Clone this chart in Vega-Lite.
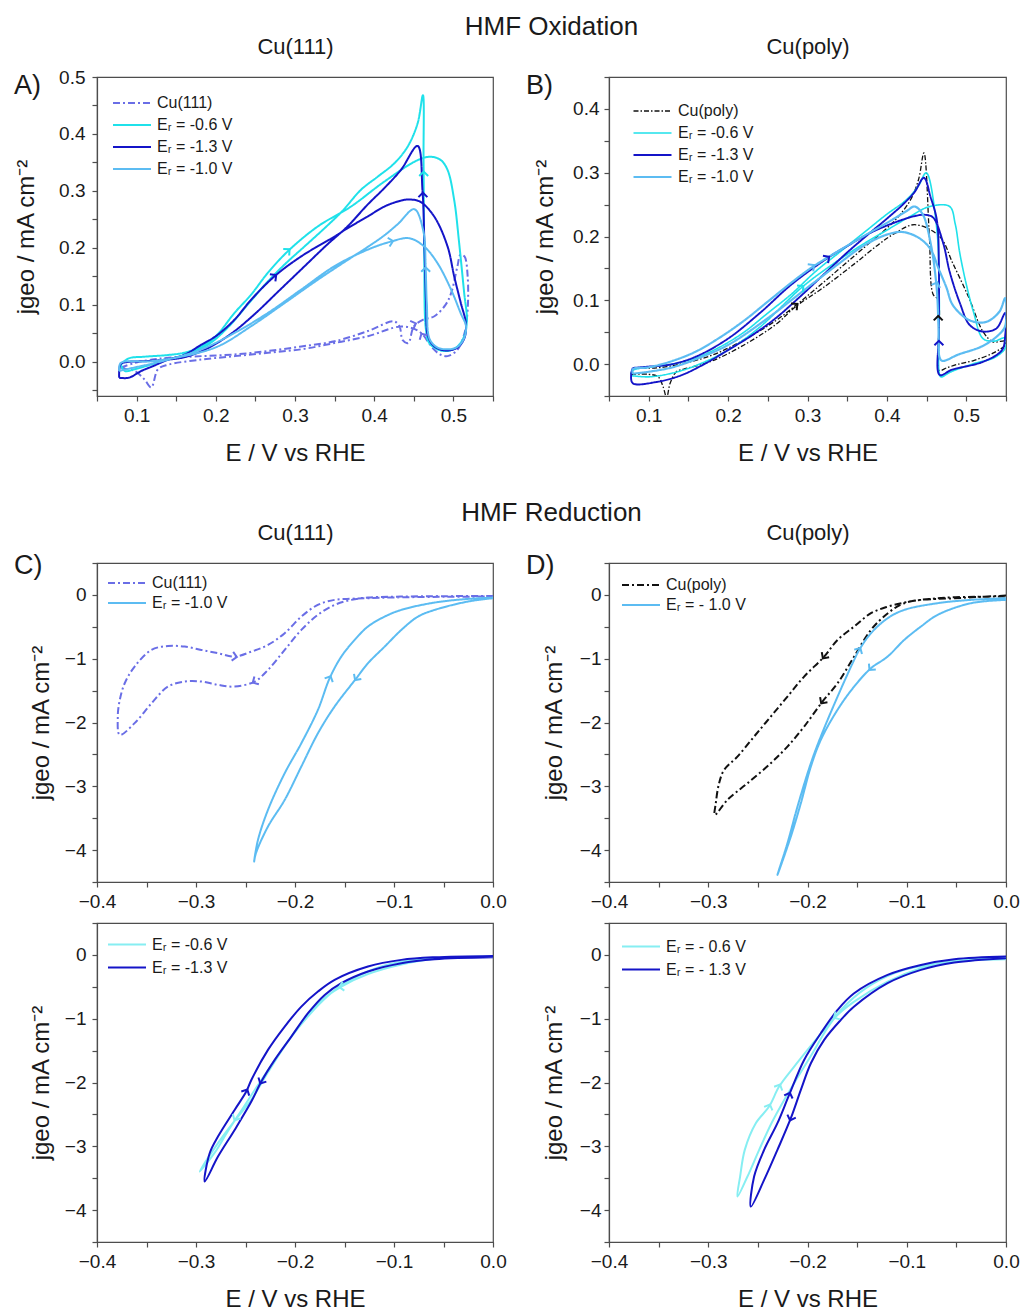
{
"$schema": "https://vega.github.io/schema/vega-lite/v6.json",
"padding": {"left": 13, "top": 14, "right": 5, "bottom": 5},
"config": {
 "font": "Liberation Sans",
 "view": {"stroke": "#4d4d4d", "strokeWidth": 1.2},
 "axis": {"grid": false, "domainColor": "#4d4d4d", "domainWidth": 1.2, "tickColor": "#4d4d4d", "tickWidth": 1.2, "tickSize": 5, "labelFontSize": 19, "labelColor": "#1a1a1a", "labelFlush": false, "labelOverlap": false, "titleFontSize": 24, "titleFontWeight": "normal", "titleColor": "#1a1a1a"},
 "axisX": {"labelPadding": 5, "titlePadding": 16},
 "title": {"fontWeight": "normal", "color": "#1a1a1a", "font": "Liberation Sans"}
},
"datasets": {
 "A": [
  {"s":"Cu(111)","x":0.08,"y":-0.01},{"s":"Cu(111)","x":0.0975,"y":-0.002},{"s":"Cu(111)","x":0.12,"y":0.004},{"s":"Cu(111)","x":0.14,"y":0.007},{"s":"Cu(111)","x":0.182,"y":0.01},{"s":"Cu(111)","x":0.224,"y":0.013},{"s":"Cu(111)","x":0.266,"y":0.019},{"s":"Cu(111)","x":0.308,"y":0.027},{"s":"Cu(111)","x":0.35,"y":0.036},{"s":"Cu(111)","x":0.392,"y":0.054},{"s":"Cu(111)","x":0.425,"y":0.071},{"s":"Cu(111)","x":0.432,"y":0.062},{"s":"Cu(111)","x":0.436,"y":0.038},{"s":"Cu(111)","x":0.443,"y":0.033},{"s":"Cu(111)","x":0.45,"y":0.062},{"s":"Cu(111)","x":0.462,"y":0.074},{"s":"Cu(111)","x":0.476,"y":0.08},{"s":"Cu(111)","x":0.49,"y":0.1},{"s":"Cu(111)","x":0.497,"y":0.12},{"s":"Cu(111)","x":0.505,"y":0.167},{"s":"Cu(111)","x":0.509,"y":0.188},{"s":"Cu(111)","x":0.514,"y":0.185},{"s":"Cu(111)","x":0.518,"y":0.15},{"s":"Cu(111)","x":0.518,"y":0.092},{"s":"Cu(111)","x":0.514,"y":0.05},{"s":"Cu(111)","x":0.505,"y":0.021},{"s":"Cu(111)","x":0.4926,"y":0.01},{"s":"Cu(111)","x":0.483,"y":0.013},{"s":"Cu(111)","x":0.476,"y":0.021},{"s":"Cu(111)","x":0.468,"y":0.035},{"s":"Cu(111)","x":0.463,"y":0.045},{"s":"Cu(111)","x":0.455,"y":0.055},{"s":"Cu(111)","x":0.434,"y":0.062},{"s":"Cu(111)","x":0.392,"y":0.045},{"s":"Cu(111)","x":0.35,"y":0.033},{"s":"Cu(111)","x":0.308,"y":0.022},{"s":"Cu(111)","x":0.266,"y":0.016},{"s":"Cu(111)","x":0.224,"y":0.01},{"s":"Cu(111)","x":0.182,"y":0.004},{"s":"Cu(111)","x":0.14,"y":-0.005},{"s":"Cu(111)","x":0.127,"y":-0.013},{"s":"Cu(111)","x":0.1185,"y":-0.045},{"s":"Cu(111)","x":0.11,"y":-0.031},{"s":"Cu(111)","x":0.0975,"y":-0.016},{"s":"Cu(111)","x":0.085,"y":-0.012},{"s":"Cu(111)","x":0.08,"y":-0.01},
  {"s":"Eᵣ = -0.6 V","x":0.08,"y":-0.005},{"s":"Eᵣ = -0.6 V","x":0.09,"y":0.006},{"s":"Eᵣ = -0.6 V","x":0.11,"y":0.009},{"s":"Eᵣ = -0.6 V","x":0.14,"y":0.012},{"s":"Eᵣ = -0.6 V","x":0.16,"y":0.016},{"s":"Eᵣ = -0.6 V","x":0.1816,"y":0.027},{"s":"Eᵣ = -0.6 V","x":0.2,"y":0.045},{"s":"Eᵣ = -0.6 V","x":0.2236,"y":0.0858},{"s":"Eᵣ = -0.6 V","x":0.2446,"y":0.118},{"s":"Eᵣ = -0.6 V","x":0.2656,"y":0.156},{"s":"Eᵣ = -0.6 V","x":0.2909,"y":0.194},{"s":"Eᵣ = -0.6 V","x":0.3287,"y":0.2376},{"s":"Eᵣ = -0.6 V","x":0.3707,"y":0.2726},{"s":"Eᵣ = -0.6 V","x":0.4128,"y":0.3164},{"s":"Eᵣ = -0.6 V","x":0.4548,"y":0.354},{"s":"Eᵣ = -0.6 V","x":0.4716,"y":0.36},{"s":"Eᵣ = -0.6 V","x":0.4842,"y":0.354},{"s":"Eᵣ = -0.6 V","x":0.4926,"y":0.337},{"s":"Eᵣ = -0.6 V","x":0.501,"y":0.284},{"s":"Eᵣ = -0.6 V","x":0.5073,"y":0.208},{"s":"Eᵣ = -0.6 V","x":0.5136,"y":0.121},{"s":"Eᵣ = -0.6 V","x":0.517,"y":0.074},{"s":"Eᵣ = -0.6 V","x":0.5136,"y":0.045},{"s":"Eᵣ = -0.6 V","x":0.5052,"y":0.027},{"s":"Eᵣ = -0.6 V","x":0.4926,"y":0.019},{"s":"Eᵣ = -0.6 V","x":0.48,"y":0.022},{"s":"Eᵣ = -0.6 V","x":0.4695,"y":0.033},{"s":"Eᵣ = -0.6 V","x":0.4653,"y":0.057},{"s":"Eᵣ = -0.6 V","x":0.4632,"y":0.179},{"s":"Eᵣ = -0.6 V","x":0.4623,"y":0.354},{"s":"Eᵣ = -0.6 V","x":0.4615,"y":0.468},{"s":"Eᵣ = -0.6 V","x":0.4548,"y":0.4186},{"s":"Eᵣ = -0.6 V","x":0.4422,"y":0.3777},{"s":"Eᵣ = -0.6 V","x":0.4254,"y":0.3485},{"s":"Eᵣ = -0.6 V","x":0.4044,"y":0.325},{"s":"Eᵣ = -0.6 V","x":0.3833,"y":0.302},{"s":"Eᵣ = -0.6 V","x":0.36,"y":0.265},{"s":"Eᵣ = -0.6 V","x":0.34,"y":0.238},{"s":"Eᵣ = -0.6 V","x":0.31,"y":0.2},{"s":"Eᵣ = -0.6 V","x":0.29,"y":0.175},{"s":"Eᵣ = -0.6 V","x":0.265,"y":0.14},{"s":"Eᵣ = -0.6 V","x":0.24,"y":0.1},{"s":"Eᵣ = -0.6 V","x":0.215,"y":0.06},{"s":"Eᵣ = -0.6 V","x":0.19,"y":0.03},{"s":"Eᵣ = -0.6 V","x":0.16,"y":0.012},{"s":"Eᵣ = -0.6 V","x":0.13,"y":0.0},{"s":"Eᵣ = -0.6 V","x":0.1,"y":-0.012},{"s":"Eᵣ = -0.6 V","x":0.085,"y":-0.016},{"s":"Eᵣ = -0.6 V","x":0.08,"y":-0.005},
  {"s":"Eᵣ = -1.3 V","x":0.078,"y":-0.028},{"s":"Eᵣ = -1.3 V","x":0.09,"y":-0.028},{"s":"Eᵣ = -1.3 V","x":0.106,"y":-0.016},{"s":"Eᵣ = -1.3 V","x":0.12,"y":-0.008},{"s":"Eᵣ = -1.3 V","x":0.14,"y":0.004},{"s":"Eᵣ = -1.3 V","x":0.16,"y":0.012},{"s":"Eᵣ = -1.3 V","x":0.1816,"y":0.03},{"s":"Eᵣ = -1.3 V","x":0.2,"y":0.045},{"s":"Eᵣ = -1.3 V","x":0.2236,"y":0.074},{"s":"Eᵣ = -1.3 V","x":0.2446,"y":0.109},{"s":"Eᵣ = -1.3 V","x":0.274,"y":0.15},{"s":"Eᵣ = -1.3 V","x":0.3077,"y":0.185},{"s":"Eᵣ = -1.3 V","x":0.35,"y":0.22},{"s":"Eᵣ = -1.3 V","x":0.3665,"y":0.2347},{"s":"Eᵣ = -1.3 V","x":0.3917,"y":0.255},{"s":"Eᵣ = -1.3 V","x":0.4128,"y":0.2726},{"s":"Eᵣ = -1.3 V","x":0.4338,"y":0.283},{"s":"Eᵣ = -1.3 V","x":0.444,"y":0.285},{"s":"Eᵣ = -1.3 V","x":0.4581,"y":0.281},{"s":"Eᵣ = -1.3 V","x":0.4758,"y":0.255},{"s":"Eᵣ = -1.3 V","x":0.4926,"y":0.2026},{"s":"Eᵣ = -1.3 V","x":0.501,"y":0.15},{"s":"Eᵣ = -1.3 V","x":0.5094,"y":0.103},{"s":"Eᵣ = -1.3 V","x":0.5157,"y":0.068},{"s":"Eᵣ = -1.3 V","x":0.514,"y":0.042},{"s":"Eᵣ = -1.3 V","x":0.505,"y":0.025},{"s":"Eᵣ = -1.3 V","x":0.49,"y":0.02},{"s":"Eᵣ = -1.3 V","x":0.476,"y":0.027},{"s":"Eᵣ = -1.3 V","x":0.468,"y":0.045},{"s":"Eᵣ = -1.3 V","x":0.4656,"y":0.1},{"s":"Eᵣ = -1.3 V","x":0.4635,"y":0.2},{"s":"Eᵣ = -1.3 V","x":0.461,"y":0.3},{"s":"Eᵣ = -1.3 V","x":0.4548,"y":0.379},{"s":"Eᵣ = -1.3 V","x":0.4338,"y":0.337},{"s":"Eᵣ = -1.3 V","x":0.4128,"y":0.305},{"s":"Eᵣ = -1.3 V","x":0.3917,"y":0.276},{"s":"Eᵣ = -1.3 V","x":0.3665,"y":0.238},{"s":"Eᵣ = -1.3 V","x":0.34,"y":0.205},{"s":"Eᵣ = -1.3 V","x":0.31,"y":0.165},{"s":"Eᵣ = -1.3 V","x":0.28,"y":0.125},{"s":"Eᵣ = -1.3 V","x":0.25,"y":0.085},{"s":"Eᵣ = -1.3 V","x":0.22,"y":0.05},{"s":"Eᵣ = -1.3 V","x":0.19,"y":0.024},{"s":"Eᵣ = -1.3 V","x":0.16,"y":0.008},{"s":"Eᵣ = -1.3 V","x":0.13,"y":0.003},{"s":"Eᵣ = -1.3 V","x":0.11,"y":0.001},{"s":"Eᵣ = -1.3 V","x":0.09,"y":0.0},{"s":"Eᵣ = -1.3 V","x":0.08,"y":-0.004},{"s":"Eᵣ = -1.3 V","x":0.078,"y":-0.028},
  {"s":"Eᵣ = -1.0 V","x":0.078,"y":-0.016},{"s":"Eᵣ = -1.0 V","x":0.0975,"y":-0.01},{"s":"Eᵣ = -1.0 V","x":0.12,"y":-0.003},{"s":"Eᵣ = -1.0 V","x":0.14,"y":0.004},{"s":"Eᵣ = -1.0 V","x":0.182,"y":0.022},{"s":"Eᵣ = -1.0 V","x":0.224,"y":0.051},{"s":"Eᵣ = -1.0 V","x":0.266,"y":0.086},{"s":"Eᵣ = -1.0 V","x":0.308,"y":0.127},{"s":"Eᵣ = -1.0 V","x":0.35,"y":0.168},{"s":"Eᵣ = -1.0 V","x":0.392,"y":0.197},{"s":"Eᵣ = -1.0 V","x":0.421,"y":0.211},{"s":"Eᵣ = -1.0 V","x":0.444,"y":0.217},{"s":"Eᵣ = -1.0 V","x":0.463,"y":0.2026},{"s":"Eᵣ = -1.0 V","x":0.48,"y":0.173},{"s":"Eᵣ = -1.0 V","x":0.497,"y":0.127},{"s":"Eᵣ = -1.0 V","x":0.509,"y":0.086},{"s":"Eᵣ = -1.0 V","x":0.516,"y":0.062},{"s":"Eᵣ = -1.0 V","x":0.513,"y":0.04},{"s":"Eᵣ = -1.0 V","x":0.505,"y":0.026},{"s":"Eᵣ = -1.0 V","x":0.495,"y":0.022},{"s":"Eᵣ = -1.0 V","x":0.48,"y":0.025},{"s":"Eᵣ = -1.0 V","x":0.47,"y":0.04},{"s":"Eᵣ = -1.0 V","x":0.4665,"y":0.1},{"s":"Eᵣ = -1.0 V","x":0.465,"y":0.162},{"s":"Eᵣ = -1.0 V","x":0.462,"y":0.23},{"s":"Eᵣ = -1.0 V","x":0.4506,"y":0.268},{"s":"Eᵣ = -1.0 V","x":0.43,"y":0.242},{"s":"Eᵣ = -1.0 V","x":0.4128,"y":0.222},{"s":"Eᵣ = -1.0 V","x":0.39,"y":0.2},{"s":"Eᵣ = -1.0 V","x":0.37,"y":0.182},{"s":"Eᵣ = -1.0 V","x":0.3287,"y":0.144},{"s":"Eᵣ = -1.0 V","x":0.2867,"y":0.103},{"s":"Eᵣ = -1.0 V","x":0.2446,"y":0.0625},{"s":"Eᵣ = -1.0 V","x":0.2026,"y":0.027},{"s":"Eᵣ = -1.0 V","x":0.16,"y":0.01},{"s":"Eᵣ = -1.0 V","x":0.118,"y":0.001},{"s":"Eᵣ = -1.0 V","x":0.08,"y":-0.002},{"s":"Eᵣ = -1.0 V","x":0.078,"y":-0.016}
 ],
 "Aarr": [
  {"s":"Cu(111)","x":0.45,"y":0.066,"a":-20},{"s":"Cu(111)","x":0.461,"y":0.046,"a":-120},
  {"s":"Eᵣ = -0.6 V","x":0.291,"y":0.195,"a":-42},{"s":"Eᵣ = -0.6 V","x":0.4625,"y":0.33,"a":-90},
  {"s":"Eᵣ = -1.3 V","x":0.274,"y":0.15,"a":-38},{"s":"Eᵣ = -1.3 V","x":0.4615,"y":0.293,"a":-90},
  {"s":"Eᵣ = -1.0 V","x":0.421,"y":0.211,"a":-12},{"s":"Eᵣ = -1.0 V","x":0.465,"y":0.162,"a":-90}
 ],
 "B": [
  {"s":"Cu(poly)","x":0.078,"y":-0.016},{"s":"Cu(poly)","x":0.1,"y":-0.016},{"s":"Cu(poly)","x":0.112,"y":-0.02},{"s":"Cu(poly)","x":0.118,"y":-0.035},{"s":"Cu(poly)","x":0.1226,"y":-0.052},{"s":"Cu(poly)","x":0.127,"y":-0.03},{"s":"Cu(poly)","x":0.135,"y":-0.012},{"s":"Cu(poly)","x":0.15,"y":-0.006},{"s":"Cu(poly)","x":0.18,"y":0.005},{"s":"Cu(poly)","x":0.22,"y":0.03},{"s":"Cu(poly)","x":0.26,"y":0.062},{"s":"Cu(poly)","x":0.285,"y":0.09},{"s":"Cu(poly)","x":0.32,"y":0.12},{"s":"Cu(poly)","x":0.36,"y":0.158},{"s":"Cu(poly)","x":0.39,"y":0.188},{"s":"Cu(poly)","x":0.41,"y":0.205},{"s":"Cu(poly)","x":0.4348,"y":0.2185},{"s":"Cu(poly)","x":0.4664,"y":0.2},{"s":"Cu(poly)","x":0.483,"y":0.158},{"s":"Cu(poly)","x":0.5036,"y":0.103},{"s":"Cu(poly)","x":0.521,"y":0.051},{"s":"Cu(poly)","x":0.5335,"y":0.035},{"s":"Cu(poly)","x":0.549,"y":0.036},{"s":"Cu(poly)","x":0.549,"y":0.03},{"s":"Cu(poly)","x":0.535,"y":0.018},{"s":"Cu(poly)","x":0.51,"y":0.006},{"s":"Cu(poly)","x":0.49,"y":0.0},{"s":"Cu(poly)","x":0.475,"y":-0.006},{"s":"Cu(poly)","x":0.466,"y":-0.01},{"s":"Cu(poly)","x":0.4646,"y":0.02},{"s":"Cu(poly)","x":0.4646,"y":0.1},{"s":"Cu(poly)","x":0.458,"y":0.11},{"s":"Cu(poly)","x":0.4535,"y":0.2},{"s":"Cu(poly)","x":0.4466,"y":0.331},{"s":"Cu(poly)","x":0.44,"y":0.29},{"s":"Cu(poly)","x":0.43,"y":0.258},{"s":"Cu(poly)","x":0.415,"y":0.232},{"s":"Cu(poly)","x":0.4,"y":0.213},{"s":"Cu(poly)","x":0.38,"y":0.192},{"s":"Cu(poly)","x":0.35,"y":0.16},{"s":"Cu(poly)","x":0.32,"y":0.128},{"s":"Cu(poly)","x":0.29,"y":0.097},{"s":"Cu(poly)","x":0.26,"y":0.068},{"s":"Cu(poly)","x":0.22,"y":0.038},{"s":"Cu(poly)","x":0.18,"y":0.014},{"s":"Cu(poly)","x":0.14,"y":0.0},{"s":"Cu(poly)","x":0.11,"y":-0.006},{"s":"Cu(poly)","x":0.08,"y":-0.008},{"s":"Cu(poly)","x":0.078,"y":-0.016},
  {"s":"Eᵣ = -0.6 V","x":0.078,"y":-0.018},{"s":"Eᵣ = -0.6 V","x":0.1,"y":-0.02},{"s":"Eᵣ = -0.6 V","x":0.13,"y":-0.014},{"s":"Eᵣ = -0.6 V","x":0.16,"y":-0.002},{"s":"Eᵣ = -0.6 V","x":0.2,"y":0.022},{"s":"Eᵣ = -0.6 V","x":0.24,"y":0.058},{"s":"Eᵣ = -0.6 V","x":0.2926,"y":0.12},{"s":"Eᵣ = -0.6 V","x":0.33,"y":0.155},{"s":"Eᵣ = -0.6 V","x":0.37,"y":0.188},{"s":"Eᵣ = -0.6 V","x":0.4,"y":0.21},{"s":"Eᵣ = -0.6 V","x":0.43,"y":0.232},{"s":"Eᵣ = -0.6 V","x":0.4538,"y":0.247},{"s":"Eᵣ = -0.6 V","x":0.479,"y":0.247},{"s":"Eᵣ = -0.6 V","x":0.486,"y":0.22},{"s":"Eᵣ = -0.6 V","x":0.4918,"y":0.174},{"s":"Eᵣ = -0.6 V","x":0.5,"y":0.125},{"s":"Eᵣ = -0.6 V","x":0.509,"y":0.082},{"s":"Eᵣ = -0.6 V","x":0.521,"y":0.04},{"s":"Eᵣ = -0.6 V","x":0.535,"y":0.036},{"s":"Eᵣ = -0.6 V","x":0.549,"y":0.041},{"s":"Eᵣ = -0.6 V","x":0.549,"y":0.025},{"s":"Eᵣ = -0.6 V","x":0.535,"y":0.01},{"s":"Eᵣ = -0.6 V","x":0.5115,"y":0.0016},{"s":"Eᵣ = -0.6 V","x":0.4815,"y":-0.0116},{"s":"Eᵣ = -0.6 V","x":0.468,"y":-0.02},{"s":"Eᵣ = -0.6 V","x":0.466,"y":-0.015},{"s":"Eᵣ = -0.6 V","x":0.466,"y":0.1},{"s":"Eᵣ = -0.6 V","x":0.4625,"y":0.216},{"s":"Eᵣ = -0.6 V","x":0.4495,"y":0.3},{"s":"Eᵣ = -0.6 V","x":0.44,"y":0.28},{"s":"Eᵣ = -0.6 V","x":0.425,"y":0.258},{"s":"Eᵣ = -0.6 V","x":0.4,"y":0.235},{"s":"Eᵣ = -0.6 V","x":0.37,"y":0.205},{"s":"Eᵣ = -0.6 V","x":0.34,"y":0.175},{"s":"Eᵣ = -0.6 V","x":0.31,"y":0.145},{"s":"Eᵣ = -0.6 V","x":0.28,"y":0.11},{"s":"Eᵣ = -0.6 V","x":0.25,"y":0.08},{"s":"Eᵣ = -0.6 V","x":0.22,"y":0.05},{"s":"Eᵣ = -0.6 V","x":0.19,"y":0.027},{"s":"Eᵣ = -0.6 V","x":0.16,"y":0.01},{"s":"Eᵣ = -0.6 V","x":0.13,"y":0.0},{"s":"Eᵣ = -0.6 V","x":0.1,"y":-0.005},{"s":"Eᵣ = -0.6 V","x":0.08,"y":-0.01},{"s":"Eᵣ = -0.6 V","x":0.078,"y":-0.018},
  {"s":"Eᵣ = -1.3 V","x":0.08,"y":-0.006},{"s":"Eᵣ = -1.3 V","x":0.1,"y":-0.004},{"s":"Eᵣ = -1.3 V","x":0.13,"y":0.0},{"s":"Eᵣ = -1.3 V","x":0.16,"y":0.012},{"s":"Eᵣ = -1.3 V","x":0.2,"y":0.04},{"s":"Eᵣ = -1.3 V","x":0.24,"y":0.08},{"s":"Eᵣ = -1.3 V","x":0.28,"y":0.125},{"s":"Eᵣ = -1.3 V","x":0.325,"y":0.166},{"s":"Eᵣ = -1.3 V","x":0.35,"y":0.185},{"s":"Eᵣ = -1.3 V","x":0.378,"y":0.205},{"s":"Eᵣ = -1.3 V","x":0.41,"y":0.222},{"s":"Eᵣ = -1.3 V","x":0.435,"y":0.232},{"s":"Eᵣ = -1.3 V","x":0.4475,"y":0.234},{"s":"Eᵣ = -1.3 V","x":0.458,"y":0.23},{"s":"Eᵣ = -1.3 V","x":0.4708,"y":0.19},{"s":"Eᵣ = -1.3 V","x":0.479,"y":0.145},{"s":"Eᵣ = -1.3 V","x":0.4918,"y":0.096},{"s":"Eᵣ = -1.3 V","x":0.5045,"y":0.061},{"s":"Eᵣ = -1.3 V","x":0.521,"y":0.051},{"s":"Eᵣ = -1.3 V","x":0.538,"y":0.056},{"s":"Eᵣ = -1.3 V","x":0.549,"y":0.08},{"s":"Eᵣ = -1.3 V","x":0.549,"y":0.045},{"s":"Eᵣ = -1.3 V","x":0.545,"y":0.022},{"s":"Eᵣ = -1.3 V","x":0.521,"y":0.0036},{"s":"Eᵣ = -1.3 V","x":0.4815,"y":-0.009},{"s":"Eᵣ = -1.3 V","x":0.4665,"y":-0.017},{"s":"Eᵣ = -1.3 V","x":0.4655,"y":0.05},{"s":"Eᵣ = -1.3 V","x":0.4655,"y":0.15},{"s":"Eᵣ = -1.3 V","x":0.463,"y":0.225},{"s":"Eᵣ = -1.3 V","x":0.455,"y":0.262},{"s":"Eᵣ = -1.3 V","x":0.4466,"y":0.292},{"s":"Eᵣ = -1.3 V","x":0.435,"y":0.27},{"s":"Eᵣ = -1.3 V","x":0.42,"y":0.25},{"s":"Eᵣ = -1.3 V","x":0.4,"y":0.228},{"s":"Eᵣ = -1.3 V","x":0.378,"y":0.205},{"s":"Eᵣ = -1.3 V","x":0.35,"y":0.175},{"s":"Eᵣ = -1.3 V","x":0.32,"y":0.14},{"s":"Eᵣ = -1.3 V","x":0.29,"y":0.105},{"s":"Eᵣ = -1.3 V","x":0.26,"y":0.072},{"s":"Eᵣ = -1.3 V","x":0.23,"y":0.045},{"s":"Eᵣ = -1.3 V","x":0.2,"y":0.022},{"s":"Eᵣ = -1.3 V","x":0.17,"y":0.0},{"s":"Eᵣ = -1.3 V","x":0.14,"y":-0.018},{"s":"Eᵣ = -1.3 V","x":0.11,"y":-0.028},{"s":"Eᵣ = -1.3 V","x":0.08,"y":-0.03},{"s":"Eᵣ = -1.3 V","x":0.078,"y":-0.015},{"s":"Eᵣ = -1.3 V","x":0.08,"y":-0.006},
  {"s":"Eᵣ = -1.0 V","x":0.08,"y":-0.015},{"s":"Eᵣ = -1.0 V","x":0.1,"y":-0.012},{"s":"Eᵣ = -1.0 V","x":0.13,"y":-0.005},{"s":"Eᵣ = -1.0 V","x":0.16,"y":0.008},{"s":"Eᵣ = -1.0 V","x":0.2,"y":0.03},{"s":"Eᵣ = -1.0 V","x":0.25,"y":0.072},{"s":"Eᵣ = -1.0 V","x":0.3,"y":0.12},{"s":"Eᵣ = -1.0 V","x":0.34,"y":0.158},{"s":"Eᵣ = -1.0 V","x":0.37,"y":0.185},{"s":"Eᵣ = -1.0 V","x":0.4,"y":0.203},{"s":"Eᵣ = -1.0 V","x":0.42,"y":0.207},{"s":"Eᵣ = -1.0 V","x":0.44,"y":0.198},{"s":"Eᵣ = -1.0 V","x":0.455,"y":0.18},{"s":"Eᵣ = -1.0 V","x":0.465,"y":0.15},{"s":"Eᵣ = -1.0 V","x":0.475,"y":0.12},{"s":"Eᵣ = -1.0 V","x":0.483,"y":0.0925},{"s":"Eᵣ = -1.0 V","x":0.5036,"y":0.069},{"s":"Eᵣ = -1.0 V","x":0.5247,"y":0.066},{"s":"Eᵣ = -1.0 V","x":0.5416,"y":0.082},{"s":"Eᵣ = -1.0 V","x":0.549,"y":0.1035},{"s":"Eᵣ = -1.0 V","x":0.549,"y":0.06},{"s":"Eᵣ = -1.0 V","x":0.54,"y":0.045},{"s":"Eᵣ = -1.0 V","x":0.52,"y":0.028},{"s":"Eᵣ = -1.0 V","x":0.49,"y":0.015},{"s":"Eᵣ = -1.0 V","x":0.47,"y":0.005},{"s":"Eᵣ = -1.0 V","x":0.4665,"y":0.01},{"s":"Eᵣ = -1.0 V","x":0.465,"y":0.06},{"s":"Eᵣ = -1.0 V","x":0.4625,"y":0.122},{"s":"Eᵣ = -1.0 V","x":0.455,"y":0.19},{"s":"Eᵣ = -1.0 V","x":0.445,"y":0.235},{"s":"Eᵣ = -1.0 V","x":0.4348,"y":0.247},{"s":"Eᵣ = -1.0 V","x":0.425,"y":0.24},{"s":"Eᵣ = -1.0 V","x":0.405,"y":0.225},{"s":"Eᵣ = -1.0 V","x":0.37,"y":0.2},{"s":"Eᵣ = -1.0 V","x":0.34,"y":0.178},{"s":"Eᵣ = -1.0 V","x":0.306,"y":0.152},{"s":"Eᵣ = -1.0 V","x":0.28,"y":0.128},{"s":"Eᵣ = -1.0 V","x":0.25,"y":0.098},{"s":"Eᵣ = -1.0 V","x":0.22,"y":0.068},{"s":"Eᵣ = -1.0 V","x":0.19,"y":0.042},{"s":"Eᵣ = -1.0 V","x":0.16,"y":0.02},{"s":"Eᵣ = -1.0 V","x":0.13,"y":0.005},{"s":"Eᵣ = -1.0 V","x":0.1,"y":-0.005},{"s":"Eᵣ = -1.0 V","x":0.08,"y":-0.008},{"s":"Eᵣ = -1.0 V","x":0.08,"y":-0.015}
 ],
 "Barr": [
  {"s":"Cu(poly)","x":0.285,"y":0.092,"a":-40},{"s":"Cu(poly)","x":0.4646,"y":0.072,"a":-90},
  {"s":"Eᵣ = -0.6 V","x":0.2926,"y":0.12,"a":-40},
  {"s":"Eᵣ = -1.3 V","x":0.325,"y":0.166,"a":-35},{"s":"Eᵣ = -1.3 V","x":0.4655,"y":0.033,"a":-90},
  {"s":"Eᵣ = -1.0 V","x":0.306,"y":0.153,"a":-38},{"s":"Eᵣ = -1.0 V","x":0.4625,"y":0.125,"a":-70}
 ],
 "C": [
  {"s":"Cu(111)","x":0,"y":-0.016},{"s":"Cu(111)","x":-0.05,"y":-0.02},{"s":"Cu(111)","x":-0.093,"y":-0.026},{"s":"Cu(111)","x":-0.1263,"y":-0.042},{"s":"Cu(111)","x":-0.143,"y":-0.078},{"s":"Cu(111)","x":-0.16,"y":-0.157},{"s":"Cu(111)","x":-0.177,"y":-0.313},{"s":"Cu(111)","x":-0.1936,"y":-0.549},{"s":"Cu(111)","x":-0.2104,"y":-0.862},{"s":"Cu(111)","x":-0.2273,"y":-1.176},{"s":"Cu(111)","x":-0.2407,"y":-1.358},{"s":"Cu(111)","x":-0.261,"y":-1.437},{"s":"Cu(111)","x":-0.2778,"y":-1.41},{"s":"Cu(111)","x":-0.2946,"y":-1.358},{"s":"Cu(111)","x":-0.3114,"y":-1.358},{"s":"Cu(111)","x":-0.3283,"y":-1.437},{"s":"Cu(111)","x":-0.345,"y":-1.7},{"s":"Cu(111)","x":-0.362,"y":-2.01},{"s":"Cu(111)","x":-0.377,"y":-2.194},{"s":"Cu(111)","x":-0.379,"y":-1.907},{"s":"Cu(111)","x":-0.377,"y":-1.646},{"s":"Cu(111)","x":-0.372,"y":-1.385},{"s":"Cu(111)","x":-0.362,"y":-1.123},{"s":"Cu(111)","x":-0.345,"y":-0.862},{"s":"Cu(111)","x":-0.3283,"y":-0.8},{"s":"Cu(111)","x":-0.3114,"y":-0.81},{"s":"Cu(111)","x":-0.2946,"y":-0.862},{"s":"Cu(111)","x":-0.2778,"y":-0.914},{"s":"Cu(111)","x":-0.261,"y":-0.967},{"s":"Cu(111)","x":-0.244,"y":-0.888},{"s":"Cu(111)","x":-0.2273,"y":-0.784},{"s":"Cu(111)","x":-0.2104,"y":-0.6},{"s":"Cu(111)","x":-0.1936,"y":-0.34},{"s":"Cu(111)","x":-0.177,"y":-0.157},{"s":"Cu(111)","x":-0.16,"y":-0.078},{"s":"Cu(111)","x":-0.143,"y":-0.06},{"s":"Cu(111)","x":-0.1263,"y":-0.052},{"s":"Cu(111)","x":-0.1,"y":-0.04},{"s":"Cu(111)","x":-0.05,"y":-0.03},{"s":"Cu(111)","x":0,"y":-0.026},
  {"s":"Eᵣ = -1.0 V","x":0,"y":-0.052},{"s":"Eᵣ = -1.0 V","x":-0.0253,"y":-0.104},{"s":"Eᵣ = -1.0 V","x":-0.0589,"y":-0.235},{"s":"Eᵣ = -1.0 V","x":-0.0758,"y":-0.34},{"s":"Eᵣ = -1.0 V","x":-0.0926,"y":-0.549},{"s":"Eᵣ = -1.0 V","x":-0.1094,"y":-0.81},{"s":"Eᵣ = -1.0 V","x":-0.1263,"y":-1.071},{"s":"Eᵣ = -1.0 V","x":-0.138,"y":-1.306},{"s":"Eᵣ = -1.0 V","x":-0.16,"y":-1.75},{"s":"Eᵣ = -1.0 V","x":-0.1768,"y":-2.168},{"s":"Eᵣ = -1.0 V","x":-0.1936,"y":-2.69},{"s":"Eᵣ = -1.0 V","x":-0.2104,"y":-3.213},{"s":"Eᵣ = -1.0 V","x":-0.2273,"y":-3.631},{"s":"Eᵣ = -1.0 V","x":-0.2395,"y":-4.05},{"s":"Eᵣ = -1.0 V","x":-0.2413,"y":-4.18},{"s":"Eᵣ = -1.0 V","x":-0.2374,"y":-3.84},{"s":"Eᵣ = -1.0 V","x":-0.2273,"y":-3.37},{"s":"Eᵣ = -1.0 V","x":-0.2104,"y":-2.795},{"s":"Eᵣ = -1.0 V","x":-0.1936,"y":-2.325},{"s":"Eᵣ = -1.0 V","x":-0.1768,"y":-1.8},{"s":"Eᵣ = -1.0 V","x":-0.165,"y":-1.306},{"s":"Eᵣ = -1.0 V","x":-0.1532,"y":-0.967},{"s":"Eᵣ = -1.0 V","x":-0.1397,"y":-0.705},{"s":"Eᵣ = -1.0 V","x":-0.1263,"y":-0.496},{"s":"Eᵣ = -1.0 V","x":-0.1094,"y":-0.34},{"s":"Eᵣ = -1.0 V","x":-0.0926,"y":-0.235},{"s":"Eᵣ = -1.0 V","x":-0.0589,"y":-0.12},{"s":"Eᵣ = -1.0 V","x":-0.0253,"y":-0.063},{"s":"Eᵣ = -1.0 V","x":0,"y":-0.042}
 ],
 "Carr": [
  {"s":"Cu(111)","x":-0.261,"y":-0.967,"a":10},{"s":"Cu(111)","x":-0.2407,"y":-1.358,"a":150},
  {"s":"Eᵣ = -1.0 V","x":-0.165,"y":-1.306,"a":-65},{"s":"Eᵣ = -1.0 V","x":-0.138,"y":-1.306,"a":125}
 ],
 "D": [
  {"s":"Cu(poly)","x":0,"y":-0.01},{"s":"Cu(poly)","x":-0.052,"y":-0.052},{"s":"Cu(poly)","x":-0.0857,"y":-0.078},{"s":"Cu(poly)","x":-0.1025,"y":-0.12},{"s":"Cu(poly)","x":-0.119,"y":-0.183},{"s":"Cu(poly)","x":-0.1361,"y":-0.287},{"s":"Cu(poly)","x":-0.153,"y":-0.496},{"s":"Cu(poly)","x":-0.1697,"y":-0.705},{"s":"Cu(poly)","x":-0.1832,"y":-0.967},{"s":"Cu(poly)","x":-0.2034,"y":-1.28},{"s":"Cu(poly)","x":-0.2202,"y":-1.594},{"s":"Cu(poly)","x":-0.237,"y":-1.907},{"s":"Cu(poly)","x":-0.2538,"y":-2.22},{"s":"Cu(poly)","x":-0.2706,"y":-2.534},{"s":"Cu(poly)","x":-0.284,"y":-2.743},{"s":"Cu(poly)","x":-0.2891,"y":-2.952},{"s":"Cu(poly)","x":-0.2924,"y":-3.265},{"s":"Cu(poly)","x":-0.2934,"y":-3.448},{"s":"Cu(poly)","x":-0.2807,"y":-3.213},{"s":"Cu(poly)","x":-0.2605,"y":-2.952},{"s":"Cu(poly)","x":-0.237,"y":-2.638},{"s":"Cu(poly)","x":-0.2202,"y":-2.377},{"s":"Cu(poly)","x":-0.2034,"y":-2.064},{"s":"Cu(poly)","x":-0.1849,"y":-1.672},{"s":"Cu(poly)","x":-0.1697,"y":-1.385},{"s":"Cu(poly)","x":-0.153,"y":-0.967},{"s":"Cu(poly)","x":-0.1361,"y":-0.549},{"s":"Cu(poly)","x":-0.119,"y":-0.287},{"s":"Cu(poly)","x":-0.1025,"y":-0.13},{"s":"Cu(poly)","x":-0.0689,"y":-0.052},{"s":"Cu(poly)","x":-0.03,"y":-0.03},{"s":"Cu(poly)","x":0,"y":-0.026},
  {"s":"Eᵣ = - 1.0 V","x":0,"y":-0.078},{"s":"Eᵣ = - 1.0 V","x":-0.0353,"y":-0.13},{"s":"Eᵣ = - 1.0 V","x":-0.0689,"y":-0.313},{"s":"Eᵣ = - 1.0 V","x":-0.0857,"y":-0.496},{"s":"Eᵣ = - 1.0 V","x":-0.1025,"y":-0.705},{"s":"Eᵣ = - 1.0 V","x":-0.1193,"y":-0.967},{"s":"Eᵣ = - 1.0 V","x":-0.1361,"y":-1.15},{"s":"Eᵣ = - 1.0 V","x":-0.153,"y":-1.437},{"s":"Eᵣ = - 1.0 V","x":-0.1697,"y":-1.8},{"s":"Eᵣ = - 1.0 V","x":-0.1866,"y":-2.273},{"s":"Eᵣ = - 1.0 V","x":-0.1966,"y":-2.69},{"s":"Eᵣ = - 1.0 V","x":-0.2067,"y":-3.265},{"s":"Eᵣ = - 1.0 V","x":-0.2168,"y":-3.788},{"s":"Eᵣ = - 1.0 V","x":-0.2303,"y":-4.389},{"s":"Eᵣ = - 1.0 V","x":-0.2202,"y":-3.892},{"s":"Eᵣ = - 1.0 V","x":-0.2101,"y":-3.318},{"s":"Eᵣ = - 1.0 V","x":-0.1966,"y":-2.638},{"s":"Eᵣ = - 1.0 V","x":-0.1866,"y":-2.22},{"s":"Eᵣ = - 1.0 V","x":-0.1697,"y":-1.594},{"s":"Eᵣ = - 1.0 V","x":-0.153,"y":-1.019},{"s":"Eᵣ = - 1.0 V","x":-0.1479,"y":-0.862},{"s":"Eᵣ = - 1.0 V","x":-0.1361,"y":-0.601},{"s":"Eᵣ = - 1.0 V","x":-0.1193,"y":-0.366},{"s":"Eᵣ = - 1.0 V","x":-0.1025,"y":-0.235},{"s":"Eᵣ = - 1.0 V","x":-0.0689,"y":-0.13},{"s":"Eᵣ = - 1.0 V","x":-0.0353,"y":-0.078},{"s":"Eᵣ = - 1.0 V","x":0,"y":-0.052}
 ],
 "Darr": [
  {"s":"Cu(poly)","x":-0.1832,"y":-0.967,"a":125},{"s":"Cu(poly)","x":-0.1849,"y":-1.672,"a":125},
  {"s":"Eᵣ = - 1.0 V","x":-0.1479,"y":-0.862,"a":-60},{"s":"Eᵣ = - 1.0 V","x":-0.1361,"y":-1.15,"a":130}
 ],
 "E": [
  {"s":"Eᵣ = -0.6 V","x":0,"y":-0.026},{"s":"Eᵣ = -0.6 V","x":-0.0589,"y":-0.06},{"s":"Eᵣ = -0.6 V","x":-0.0926,"y":-0.15},{"s":"Eᵣ = -0.6 V","x":-0.1263,"y":-0.3},{"s":"Eᵣ = -0.6 V","x":-0.1532,"y":-0.496},{"s":"Eᵣ = -0.6 V","x":-0.1768,"y":-0.758},{"s":"Eᵣ = -0.6 V","x":-0.1936,"y":-1.071},{"s":"Eᵣ = -0.6 V","x":-0.2104,"y":-1.43},{"s":"Eᵣ = -0.6 V","x":-0.2273,"y":-1.84},{"s":"Eᵣ = -0.6 V","x":-0.2441,"y":-2.27},{"s":"Eᵣ = -0.6 V","x":-0.261,"y":-2.6},{"s":"Eᵣ = -0.6 V","x":-0.2778,"y":-2.95},{"s":"Eᵣ = -0.6 V","x":-0.2963,"y":-3.396},{"s":"Eᵣ = -0.6 V","x":-0.2811,"y":-3.1},{"s":"Eᵣ = -0.6 V","x":-0.2677,"y":-2.76},{"s":"Eᵣ = -0.6 V","x":-0.2525,"y":-2.4},{"s":"Eᵣ = -0.6 V","x":-0.2357,"y":-2.0},{"s":"Eᵣ = -0.6 V","x":-0.219,"y":-1.62},{"s":"Eᵣ = -0.6 V","x":-0.202,"y":-1.25},{"s":"Eᵣ = -0.6 V","x":-0.185,"y":-0.93},{"s":"Eᵣ = -0.6 V","x":-0.168,"y":-0.66},{"s":"Eᵣ = -0.6 V","x":-0.15,"y":-0.44},{"s":"Eᵣ = -0.6 V","x":-0.12,"y":-0.22},{"s":"Eᵣ = -0.6 V","x":-0.09,"y":-0.1},{"s":"Eᵣ = -0.6 V","x":-0.05,"y":-0.045},{"s":"Eᵣ = -0.6 V","x":0,"y":-0.026},
  {"s":"Eᵣ = -1.3 V","x":0,"y":-0.037},{"s":"Eᵣ = -1.3 V","x":-0.0589,"y":-0.068},{"s":"Eᵣ = -1.3 V","x":-0.0926,"y":-0.131},{"s":"Eᵣ = -1.3 V","x":-0.1263,"y":-0.261},{"s":"Eᵣ = -1.3 V","x":-0.1532,"y":-0.444},{"s":"Eᵣ = -1.3 V","x":-0.17,"y":-0.627},{"s":"Eᵣ = -1.3 V","x":-0.1869,"y":-0.914},{"s":"Eᵣ = -1.3 V","x":-0.2037,"y":-1.28},{"s":"Eᵣ = -1.3 V","x":-0.2205,"y":-1.646},{"s":"Eᵣ = -1.3 V","x":-0.234,"y":-1.985},{"s":"Eᵣ = -1.3 V","x":-0.2441,"y":-2.299},{"s":"Eᵣ = -1.3 V","x":-0.261,"y":-2.743},{"s":"Eᵣ = -1.3 V","x":-0.2778,"y":-3.161},{"s":"Eᵣ = -1.3 V","x":-0.2912,"y":-3.553},{"s":"Eᵣ = -1.3 V","x":-0.2862,"y":-3.109},{"s":"Eᵣ = -1.3 V","x":-0.2778,"y":-2.847},{"s":"Eᵣ = -1.3 V","x":-0.261,"y":-2.43},{"s":"Eᵣ = -1.3 V","x":-0.2492,"y":-2.142},{"s":"Eᵣ = -1.3 V","x":-0.2441,"y":-1.96},{"s":"Eᵣ = -1.3 V","x":-0.2273,"y":-1.489},{"s":"Eᵣ = -1.3 V","x":-0.2104,"y":-1.123},{"s":"Eᵣ = -1.3 V","x":-0.1936,"y":-0.81},{"s":"Eᵣ = -1.3 V","x":-0.1768,"y":-0.575},{"s":"Eᵣ = -1.3 V","x":-0.16,"y":-0.392},{"s":"Eᵣ = -1.3 V","x":-0.1263,"y":-0.183},{"s":"Eᵣ = -1.3 V","x":-0.0926,"y":-0.078},{"s":"Eᵣ = -1.3 V","x":-0.0589,"y":-0.037},{"s":"Eᵣ = -1.3 V","x":0,"y":-0.016}
 ],
 "Earr": [
  {"s":"Eᵣ = -0.6 V","x":-0.1532,"y":-0.496,"a":170},{"s":"Eᵣ = -0.6 V","x":-0.26,"y":-2.56,"a":120},
  {"s":"Eᵣ = -1.3 V","x":-0.2492,"y":-2.142,"a":-62},{"s":"Eᵣ = -1.3 V","x":-0.234,"y":-1.985,"a":118}
 ],
 "F": [
  {"s":"Eᵣ = - 0.6 V","x":0,"y":-0.042},{"s":"Eᵣ = - 0.6 V","x":-0.0521,"y":-0.089},{"s":"Eᵣ = - 0.6 V","x":-0.0857,"y":-0.209},{"s":"Eᵣ = - 0.6 V","x":-0.1193,"y":-0.418},{"s":"Eᵣ = - 0.6 V","x":-0.153,"y":-0.732},{"s":"Eᵣ = - 0.6 V","x":-0.1714,"y":-0.967},{"s":"Eᵣ = - 0.6 V","x":-0.1832,"y":-1.228},{"s":"Eᵣ = - 0.6 V","x":-0.195,"y":-1.541},{"s":"Eᵣ = - 0.6 V","x":-0.2094,"y":-1.907},{"s":"Eᵣ = - 0.6 V","x":-0.2235,"y":-2.273},{"s":"Eᵣ = - 0.6 V","x":-0.2363,"y":-2.638},{"s":"Eᵣ = - 0.6 V","x":-0.2487,"y":-3.056},{"s":"Eᵣ = - 0.6 V","x":-0.2605,"y":-3.474},{"s":"Eᵣ = - 0.6 V","x":-0.2706,"y":-3.788},{"s":"Eᵣ = - 0.6 V","x":-0.2679,"y":-3.474},{"s":"Eᵣ = - 0.6 V","x":-0.2632,"y":-3.056},{"s":"Eᵣ = - 0.6 V","x":-0.2521,"y":-2.638},{"s":"Eᵣ = - 0.6 V","x":-0.2387,"y":-2.377},{"s":"Eᵣ = - 0.6 V","x":-0.2286,"y":-2.064},{"s":"Eᵣ = - 0.6 V","x":-0.2134,"y":-1.75},{"s":"Eᵣ = - 0.6 V","x":-0.1973,"y":-1.437},{"s":"Eᵣ = - 0.6 V","x":-0.1805,"y":-1.123},{"s":"Eᵣ = - 0.6 V","x":-0.1597,"y":-0.758},{"s":"Eᵣ = - 0.6 V","x":-0.1361,"y":-0.47},{"s":"Eᵣ = - 0.6 V","x":-0.1025,"y":-0.235},{"s":"Eᵣ = - 0.6 V","x":-0.0521,"y":-0.104},{"s":"Eᵣ = - 0.6 V","x":0,"y":-0.068},
  {"s":"Eᵣ = - 1.3 V","x":0,"y":-0.052},{"s":"Eᵣ = - 1.3 V","x":-0.0521,"y":-0.12},{"s":"Eᵣ = - 1.3 V","x":-0.0857,"y":-0.235},{"s":"Eᵣ = - 1.3 V","x":-0.1193,"y":-0.444},{"s":"Eᵣ = - 1.3 V","x":-0.153,"y":-0.81},{"s":"Eᵣ = - 1.3 V","x":-0.1664,"y":-1.019},{"s":"Eᵣ = - 1.3 V","x":-0.1832,"y":-1.332},{"s":"Eᵣ = - 1.3 V","x":-0.1966,"y":-1.698},{"s":"Eᵣ = - 1.3 V","x":-0.2067,"y":-2.116},{"s":"Eᵣ = - 1.3 V","x":-0.2168,"y":-2.56},{"s":"Eᵣ = - 1.3 V","x":-0.2303,"y":-3.056},{"s":"Eᵣ = - 1.3 V","x":-0.2437,"y":-3.527},{"s":"Eᵣ = - 1.3 V","x":-0.2571,"y":-3.945},{"s":"Eᵣ = - 1.3 V","x":-0.2538,"y":-3.474},{"s":"Eᵣ = - 1.3 V","x":-0.2437,"y":-3.056},{"s":"Eᵣ = - 1.3 V","x":-0.2303,"y":-2.638},{"s":"Eᵣ = - 1.3 V","x":-0.2185,"y":-2.194},{"s":"Eᵣ = - 1.3 V","x":-0.2034,"y":-1.646},{"s":"Eᵣ = - 1.3 V","x":-0.1866,"y":-1.228},{"s":"Eᵣ = - 1.3 V","x":-0.1697,"y":-0.862},{"s":"Eᵣ = - 1.3 V","x":-0.153,"y":-0.601},{"s":"Eᵣ = - 1.3 V","x":-0.1193,"y":-0.313},{"s":"Eᵣ = - 1.3 V","x":-0.0857,"y":-0.157},{"s":"Eᵣ = - 1.3 V","x":-0.0521,"y":-0.068},{"s":"Eᵣ = - 1.3 V","x":0,"y":-0.026}
 ],
 "Farr": [
  {"s":"Eᵣ = - 0.6 V","x":-0.1714,"y":-0.967,"a":150},{"s":"Eᵣ = - 0.6 V","x":-0.2387,"y":-2.377,"a":-68},{"s":"Eᵣ = - 0.6 V","x":-0.2286,"y":-2.064,"a":-65},
  {"s":"Eᵣ = - 1.3 V","x":-0.2185,"y":-2.194,"a":-70},{"s":"Eᵣ = - 1.3 V","x":-0.2168,"y":-2.56,"a":110}
 ]
},
"spacing": 34,
"resolve": {"scale": {"color": "independent", "strokeDash": "independent", "stroke": "independent", "strokeWidth": "independent"}, "legend": {"color": "independent", "strokeDash": "independent"}},
"vconcat": [
 {
  "title": {"text": "HMF Oxidation", "fontSize": 26, "frame": "group", "anchor": "middle", "offset": -6, "dx": 454.5},
  "bounds": "flush",
  "spacing": 116,
  "resolve": {"scale": {"color": "independent", "strokeDash": "independent", "stroke": "independent", "strokeWidth": "independent"}, "legend": {"color": "independent", "strokeDash": "independent"}},
  "hconcat": [
   {
    "width": 396, "height": 319,
    "title": {"text": "A)", "anchor": "start", "frame": "group", "fontSize": 27, "offset": 0, "dx": -83, "dy": 65},
    "resolve": {"scale": {"x": "independent", "y": "independent"}, "axis": {"x": "independent", "y": "independent"}},
    "layer": [
     {
      "data": {"name": "A"},
      "mark": {"type": "line", "clip": true, "strokeWidth": 2, "interpolate": "catmull-rom"},
      "encoding": {
       "x": {"field": "x", "type": "quantitative", "scale": {"domain": [0.05, 0.55], "nice": false, "zero": false}, "axis": {"title": "E / V vs RHE", "values": [0.05,0.1,0.15,0.2,0.25,0.3,0.35,0.4,0.45,0.5,0.55], "labelExpr": "abs(datum.value*10-round(datum.value*10))<0.01 ? format(datum.value,'.1f') : ''"}},
       "y": {"field": "y", "type": "quantitative", "scale": {"domain": [-0.06, 0.5], "nice": false, "zero": false}, "axis": {"title": "jgeo / mA cm⁻²", "values": [0,0.1,0.2,0.3,0.4,0.5], "format": ".1f", "labelPadding": 7, "titlePadding": 20}},
       "color": {"field": "s", "type": "nominal", "scale": {"domain": ["Cu(111)", "Eᵣ = -0.6 V", "Eᵣ = -1.3 V", "Eᵣ = -1.0 V"], "range": ["#6a6ee6", "#1fe1ea", "#1414c8", "#5cbcf2"]}, "legend": {"title": null, "orient": "top-left", "offset": 15, "padding": 0, "labelFontSize": 16, "labelColor": "#1a1a1a", "symbolType": "stroke", "symbolSize": 1444, "symbolStrokeWidth": 2, "clipHeight": 22, "labelOffset": 5, "rowPadding": 0}},
       "strokeDash": {"field": "s", "type": "nominal", "scale": {"domain": ["Cu(111)", "Eᵣ = -0.6 V", "Eᵣ = -1.3 V", "Eᵣ = -1.0 V"], "range": [[7,3,2,3],[1,0],[1,0],[1,0]]}, "legend": {"title": null, "orient": "top-left", "offset": 15, "padding": 0, "labelFontSize": 16, "labelColor": "#1a1a1a", "symbolType": "stroke", "symbolSize": 1444, "symbolStrokeWidth": 2, "clipHeight": 22, "labelOffset": 5, "rowPadding": 0}},
       "order": {"value": null}
      }
     },
     {
      "data": {"name": "Aarr"},
      "mark": {"type": "point", "shape": "M-0.5,-1L0.5,0L-0.5,1", "filled": false, "strokeWidth": 2, "size": 80, "opacity": 1, "clip": true},
      "encoding": {
       "x": {"field": "x", "type": "quantitative", "scale": {"domain": [0.05, 0.55], "nice": false, "zero": false}, "axis": {"orient": "top", "title": "Cu(111)", "labels": false, "ticks": false, "domain": false, "titleFontSize": 22, "titlePadding": 19}},
       "y": {"field": "y", "type": "quantitative", "scale": {"domain": [-0.06, 0.5], "nice": false, "zero": false}, "axis": {"orient": "left", "title": null, "values": [-0.05,0.05,0.15,0.25,0.35,0.45], "labels": false, "domain": false}},
       "stroke": {"field": "s", "type": "nominal", "scale": {"domain": ["Cu(111)", "Eᵣ = -0.6 V", "Eᵣ = -1.3 V", "Eᵣ = -1.0 V"], "range": ["#6a6ee6", "#1fe1ea", "#1414c8", "#5cbcf2"]}, "legend": null},
       "angle": {"field": "a", "type": "quantitative", "scale": null}
      }
     }
    ]
   },
   {
    "width": 397, "height": 319,
    "title": {"text": "B)", "anchor": "start", "frame": "group", "fontSize": 27, "offset": 0, "dx": -83, "dy": 65},
    "resolve": {"scale": {"x": "independent", "y": "independent"}, "axis": {"x": "independent", "y": "independent"}},
    "layer": [
     {
      "data": {"name": "B"},
      "mark": {"type": "line", "clip": true, "interpolate": "catmull-rom"},
      "encoding": {
       "x": {"field": "x", "type": "quantitative", "scale": {"domain": [0.05, 0.55], "nice": false, "zero": false}, "axis": {"title": "E / V vs RHE", "values": [0.05,0.1,0.15,0.2,0.25,0.3,0.35,0.4,0.45,0.5,0.55], "labelExpr": "abs(datum.value*10-round(datum.value*10))<0.01 ? format(datum.value,'.1f') : ''"}},
       "y": {"field": "y", "type": "quantitative", "scale": {"domain": [-0.05, 0.45], "nice": false, "zero": false}, "axis": {"title": "jgeo / mA cm⁻²", "values": [0,0.1,0.2,0.3,0.4], "format": ".1f", "labelPadding": 5, "titlePadding": 15}},
       "color": {"field": "s", "type": "nominal", "scale": {"domain": ["Cu(poly)", "Eᵣ = -0.6 V", "Eᵣ = -1.3 V", "Eᵣ = -1.0 V"], "range": ["#111111", "#1fe1ea", "#1414c8", "#5cbcf2"]}, "legend": {"title": null, "orient": "top-left", "offset": 23, "padding": 0, "labelFontSize": 16, "labelColor": "#1a1a1a", "symbolType": "stroke", "symbolSize": 1444, "symbolStrokeWidth": 2, "clipHeight": 22, "labelOffset": 5, "rowPadding": 0}},
       "strokeDash": {"field": "s", "type": "nominal", "scale": {"domain": ["Cu(poly)", "Eᵣ = -0.6 V", "Eᵣ = -1.3 V", "Eᵣ = -1.0 V"], "range": [[5,2,1.5,2],[1,0],[1,0],[1,0]]}, "legend": {"title": null, "orient": "top-left", "offset": 23, "padding": 0, "labelFontSize": 16, "labelColor": "#1a1a1a", "symbolType": "stroke", "symbolSize": 1444, "symbolStrokeWidth": 2, "clipHeight": 22, "labelOffset": 5, "rowPadding": 0}},
       "strokeWidth": {"field": "s", "type": "nominal", "scale": {"domain": ["Cu(poly)", "Eᵣ = -0.6 V", "Eᵣ = -1.3 V", "Eᵣ = -1.0 V"], "range": [1.3, 2.2, 2.2, 2.2]}, "legend": null},
       "order": {"value": null}
      }
     },
     {
      "data": {"name": "Barr"},
      "mark": {"type": "point", "shape": "M-0.5,-1L0.5,0L-0.5,1", "filled": false, "strokeWidth": 2, "size": 80, "opacity": 1, "clip": true},
      "encoding": {
       "x": {"field": "x", "type": "quantitative", "scale": {"domain": [0.05, 0.55], "nice": false, "zero": false}, "axis": {"orient": "top", "title": "Cu(poly)", "labels": false, "ticks": false, "domain": false, "titleFontSize": 22, "titlePadding": 19}},
       "y": {"field": "y", "type": "quantitative", "scale": {"domain": [-0.05, 0.45], "nice": false, "zero": false}, "axis": {"orient": "left", "title": null, "values": [-0.05,0.05,0.15,0.25,0.35,0.45], "labels": false, "domain": false}},
       "stroke": {"field": "s", "type": "nominal", "scale": {"domain": ["Cu(poly)", "Eᵣ = -0.6 V", "Eᵣ = -1.3 V", "Eᵣ = -1.0 V"], "range": ["#111111", "#1fe1ea", "#1414c8", "#5cbcf2"]}, "legend": null},
       "angle": {"field": "a", "type": "quantitative", "scale": null}
      }
     }
    ]
   }
  ]
 },
 {
  "title": {"text": "HMF Reduction", "fontSize": 26, "frame": "group", "anchor": "middle", "offset": -6, "dx": 454.5},
  "bounds": "flush",
  "columns": 2,
  "spacing": {"row": 41, "column": 116},
  "resolve": {"scale": {"color": "independent", "strokeDash": "independent", "stroke": "independent", "strokeWidth": "independent"}, "legend": {"color": "independent", "strokeDash": "independent"}},
  "concat": [
   {
    "width": 396, "height": 319,
    "title": {"text": "C)", "anchor": "start", "frame": "group", "fontSize": 27, "offset": 0, "dx": -83, "dy": 59},
    "resolve": {"scale": {"x": "independent", "y": "independent"}, "axis": {"x": "independent", "y": "independent"}},
    "layer": [
     {
      "data": {"name": "C"},
      "mark": {"type": "line", "clip": true, "strokeWidth": 2, "interpolate": "catmull-rom"},
      "encoding": {
       "x": {"field": "x", "type": "quantitative", "scale": {"domain": [-0.4, 0], "nice": false, "zero": false}, "axis": {"title": null, "values": [-0.4,-0.35,-0.3,-0.25,-0.2,-0.15,-0.1,-0.05,0], "labelExpr": "abs(datum.value*10-round(datum.value*10))<0.01 ? format(datum.value,'.1f') : ''"}},
       "y": {"field": "y", "type": "quantitative", "scale": {"domain": [-4.5, 0.5], "nice": false, "zero": false}, "axis": {"title": "jgeo / mA cm⁻²", "values": [-4,-3,-2,-1,0], "format": "d", "labelPadding": 6, "titlePadding": 11}},
       "color": {"field": "s", "type": "nominal", "scale": {"domain": ["Cu(111)", "Eᵣ = -1.0 V"], "range": ["#6a6ee6", "#5cbcf2"]}, "legend": {"title": null, "orient": "top-left", "offset": 10, "padding": 0, "labelFontSize": 16, "labelColor": "#1a1a1a", "symbolType": "stroke", "symbolSize": 1444, "symbolStrokeWidth": 2, "clipHeight": 20, "labelOffset": 5, "rowPadding": 0}},
       "strokeDash": {"field": "s", "type": "nominal", "scale": {"domain": ["Cu(111)", "Eᵣ = -1.0 V"], "range": [[7,3,2,3],[1,0]]}, "legend": {"title": null, "orient": "top-left", "offset": 10, "padding": 0, "labelFontSize": 16, "labelColor": "#1a1a1a", "symbolType": "stroke", "symbolSize": 1444, "symbolStrokeWidth": 2, "clipHeight": 20, "labelOffset": 5, "rowPadding": 0}},
       "order": {"value": null}
      }
     },
     {
      "data": {"name": "Carr"},
      "mark": {"type": "point", "shape": "M-0.5,-1L0.5,0L-0.5,1", "filled": false, "strokeWidth": 2, "size": 80, "opacity": 1, "clip": true},
      "encoding": {
       "x": {"field": "x", "type": "quantitative", "scale": {"domain": [-0.4, 0], "nice": false, "zero": false}, "axis": {"orient": "top", "title": "Cu(111)", "labels": false, "ticks": false, "domain": false, "titleFontSize": 22, "titlePadding": 19}},
       "y": {"field": "y", "type": "quantitative", "scale": {"domain": [-4.5, 0.5], "nice": false, "zero": false}, "axis": {"orient": "left", "title": null, "values": [-4.5,-3.5,-2.5,-1.5,-0.5,0.5], "labels": false, "domain": false}},
       "stroke": {"field": "s", "type": "nominal", "scale": {"domain": ["Cu(111)", "Eᵣ = -1.0 V"], "range": ["#6a6ee6", "#5cbcf2"]}, "legend": null},
       "angle": {"field": "a", "type": "quantitative", "scale": null}
      }
     }
    ]
   },
   {
    "width": 397, "height": 319,
    "title": {"text": "D)", "anchor": "start", "frame": "group", "fontSize": 27, "offset": 0, "dx": -83, "dy": 59},
    "resolve": {"scale": {"x": "independent", "y": "independent"}, "axis": {"x": "independent", "y": "independent"}},
    "layer": [
     {
      "data": {"name": "D"},
      "mark": {"type": "line", "clip": true, "strokeWidth": 2, "interpolate": "catmull-rom"},
      "encoding": {
       "x": {"field": "x", "type": "quantitative", "scale": {"domain": [-0.4, 0], "nice": false, "zero": false}, "axis": {"title": null, "values": [-0.4,-0.35,-0.3,-0.25,-0.2,-0.15,-0.1,-0.05,0], "labelExpr": "abs(datum.value*10-round(datum.value*10))<0.01 ? format(datum.value,'.1f') : ''"}},
       "y": {"field": "y", "type": "quantitative", "scale": {"domain": [-4.5, 0.5], "nice": false, "zero": false}, "axis": {"title": "jgeo / mA cm⁻²", "values": [-4,-3,-2,-1,0], "format": "d", "labelPadding": 3, "titlePadding": 13}},
       "color": {"field": "s", "type": "nominal", "scale": {"domain": ["Cu(poly)", "Eᵣ = - 1.0 V"], "range": ["#111111", "#5cbcf2"]}, "legend": {"title": null, "orient": "top-left", "offset": 12, "padding": 0, "labelFontSize": 16, "labelColor": "#1a1a1a", "symbolType": "stroke", "symbolSize": 1444, "symbolStrokeWidth": 2, "clipHeight": 20, "labelOffset": 5, "rowPadding": 0}},
       "strokeDash": {"field": "s", "type": "nominal", "scale": {"domain": ["Cu(poly)", "Eᵣ = - 1.0 V"], "range": [[7,3,2,3],[1,0]]}, "legend": {"title": null, "orient": "top-left", "offset": 12, "padding": 0, "labelFontSize": 16, "labelColor": "#1a1a1a", "symbolType": "stroke", "symbolSize": 1444, "symbolStrokeWidth": 2, "clipHeight": 20, "labelOffset": 5, "rowPadding": 0}},
       "order": {"value": null}
      }
     },
     {
      "data": {"name": "Darr"},
      "mark": {"type": "point", "shape": "M-0.5,-1L0.5,0L-0.5,1", "filled": false, "strokeWidth": 2, "size": 80, "opacity": 1, "clip": true},
      "encoding": {
       "x": {"field": "x", "type": "quantitative", "scale": {"domain": [-0.4, 0], "nice": false, "zero": false}, "axis": {"orient": "top", "title": "Cu(poly)", "labels": false, "ticks": false, "domain": false, "titleFontSize": 22, "titlePadding": 19}},
       "y": {"field": "y", "type": "quantitative", "scale": {"domain": [-4.5, 0.5], "nice": false, "zero": false}, "axis": {"orient": "left", "title": null, "values": [-4.5,-3.5,-2.5,-1.5,-0.5,0.5], "labels": false, "domain": false}},
       "stroke": {"field": "s", "type": "nominal", "scale": {"domain": ["Cu(poly)", "Eᵣ = - 1.0 V"], "range": ["#111111", "#5cbcf2"]}, "legend": null},
       "angle": {"field": "a", "type": "quantitative", "scale": null}
      }
     }
    ]
   },
   {
    "width": 396, "height": 319,
    "resolve": {"scale": {"y": "independent"}, "axis": {"y": "independent"}},
    "layer": [
     {
      "data": {"name": "E"},
      "mark": {"type": "line", "clip": true, "strokeWidth": 2, "interpolate": "catmull-rom"},
      "encoding": {
       "x": {"field": "x", "type": "quantitative", "scale": {"domain": [-0.4, 0], "nice": false, "zero": false}, "axis": {"title": "E / V vs RHE", "values": [-0.4,-0.35,-0.3,-0.25,-0.2,-0.15,-0.1,-0.05,0], "labelExpr": "abs(datum.value*10-round(datum.value*10))<0.01 ? format(datum.value,'.1f') : ''"}},
       "y": {"field": "y", "type": "quantitative", "scale": {"domain": [-4.5, 0.5], "nice": false, "zero": false}, "axis": {"title": "jgeo / mA cm⁻²", "values": [-4,-3,-2,-1,0], "format": "d", "labelPadding": 6, "titlePadding": 11}},
       "color": {"field": "s", "type": "nominal", "scale": {"domain": ["Eᵣ = -0.6 V", "Eᵣ = -1.3 V"], "range": ["#86eef2", "#1414c8"]}, "legend": {"title": null, "orient": "top-left", "offset": 10, "padding": 0, "labelFontSize": 16, "labelColor": "#1a1a1a", "symbolType": "stroke", "symbolSize": 1444, "symbolStrokeWidth": 2, "clipHeight": 23, "labelOffset": 5, "rowPadding": 0}},
       "order": {"value": null}
      }
     },
     {
      "data": {"name": "Earr"},
      "mark": {"type": "point", "shape": "M-0.5,-1L0.5,0L-0.5,1", "filled": false, "strokeWidth": 2, "size": 80, "opacity": 1, "clip": true},
      "encoding": {
       "x": {"field": "x", "type": "quantitative"},
       "y": {"field": "y", "type": "quantitative", "scale": {"domain": [-4.5, 0.5], "nice": false, "zero": false}, "axis": {"orient": "left", "title": null, "values": [-4.5,-3.5,-2.5,-1.5,-0.5,0.5], "labels": false, "domain": false}},
       "stroke": {"field": "s", "type": "nominal", "scale": {"domain": ["Eᵣ = -0.6 V", "Eᵣ = -1.3 V"], "range": ["#86eef2", "#1414c8"]}, "legend": null},
       "angle": {"field": "a", "type": "quantitative", "scale": null}
      }
     }
    ]
   },
   {
    "width": 397, "height": 319,
    "resolve": {"scale": {"y": "independent"}, "axis": {"y": "independent"}},
    "layer": [
     {
      "data": {"name": "F"},
      "mark": {"type": "line", "clip": true, "strokeWidth": 2, "interpolate": "catmull-rom"},
      "encoding": {
       "x": {"field": "x", "type": "quantitative", "scale": {"domain": [-0.4, 0], "nice": false, "zero": false}, "axis": {"title": "E / V vs RHE", "values": [-0.4,-0.35,-0.3,-0.25,-0.2,-0.15,-0.1,-0.05,0], "labelExpr": "abs(datum.value*10-round(datum.value*10))<0.01 ? format(datum.value,'.1f') : ''"}},
       "y": {"field": "y", "type": "quantitative", "scale": {"domain": [-4.5, 0.5], "nice": false, "zero": false}, "axis": {"title": "jgeo / mA cm⁻²", "values": [-4,-3,-2,-1,0], "format": "d", "labelPadding": 3, "titlePadding": 13}},
       "color": {"field": "s", "type": "nominal", "scale": {"domain": ["Eᵣ = - 0.6 V", "Eᵣ = - 1.3 V"], "range": ["#86eef2", "#1414c8"]}, "legend": {"title": null, "orient": "top-left", "offset": 12, "padding": 0, "labelFontSize": 16, "labelColor": "#1a1a1a", "symbolType": "stroke", "symbolSize": 1444, "symbolStrokeWidth": 2, "clipHeight": 23, "labelOffset": 5, "rowPadding": 0}},
       "order": {"value": null}
      }
     },
     {
      "data": {"name": "Farr"},
      "mark": {"type": "point", "shape": "M-0.5,-1L0.5,0L-0.5,1", "filled": false, "strokeWidth": 2, "size": 80, "opacity": 1, "clip": true},
      "encoding": {
       "x": {"field": "x", "type": "quantitative"},
       "y": {"field": "y", "type": "quantitative", "scale": {"domain": [-4.5, 0.5], "nice": false, "zero": false}, "axis": {"orient": "left", "title": null, "values": [-4.5,-3.5,-2.5,-1.5,-0.5,0.5], "labels": false, "domain": false}},
       "stroke": {"field": "s", "type": "nominal", "scale": {"domain": ["Eᵣ = - 0.6 V", "Eᵣ = - 1.3 V"], "range": ["#86eef2", "#1414c8"]}, "legend": null},
       "angle": {"field": "a", "type": "quantitative", "scale": null}
      }
     }
    ]
   }
  ]
 }
]
}
